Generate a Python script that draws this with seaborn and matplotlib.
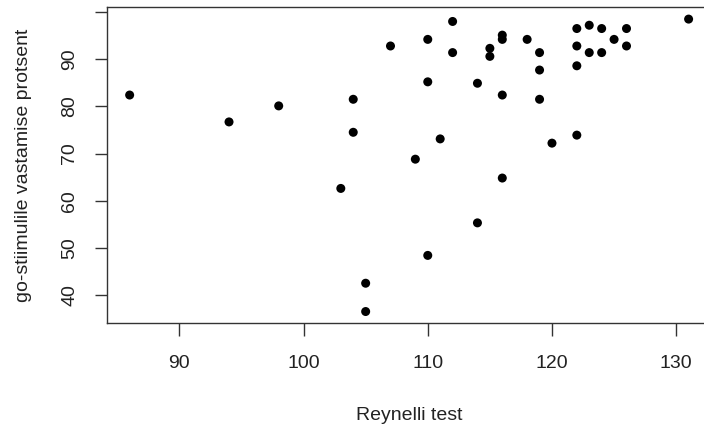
import matplotlib
matplotlib.use("Agg")
import matplotlib.pyplot as plt
import seaborn as sns
import pandas as pd

reynelli = [86, 94, 98, 104, 104, 103, 105, 105, 107,
            131, 110, 112, 112, 110, 109, 111, 110, 114, 114,
            115, 115, 116, 116, 116, 116, 118, 119, 119, 119,
            120, 122, 122, 122, 122, 123, 123, 124, 124, 125, 126, 126]
go_pct = [82.4, 76.7, 80.1, 81.5, 74.5, 62.6, 42.5, 36.5, 92.8,
          98.5, 94.2, 98.0, 91.4, 85.2, 68.8, 73.1, 48.4, 84.9, 55.3,
          92.3, 90.6, 95.1, 94.2, 82.4, 64.8, 94.2, 91.4, 87.7, 81.5,
          72.2, 96.5, 92.8, 88.6, 73.9, 97.2, 91.4, 96.5, 91.4, 94.2, 96.5, 92.8]

x_ticks = [90, 100, 110, 120, 130]
x_tick_labels = ["90", "100", "110", "120", "130"]
y_ticks = [40, 50, 60, 70, 80, 90, 100]
y_tick_labels = ["40", "50", "60", "70", "80", "90", ""]

df = pd.DataFrame({"Reynelli test": reynelli, "go": go_pct})

sns.set_style("ticks")
plt.rcParams["font.family"] = ["Liberation Sans", "DejaVu Sans"]

fig = plt.figure(figsize=(7.04, 4.30), dpi=100)
ax = fig.add_axes([0.1524, 0.2481, 0.8575, 0.7349])

sns.scatterplot(data=df, x="Reynelli test", y="go", color="black",
                s=42, edgecolor="none", linewidth=0, ax=ax)

ax.set_xlim(84.2, 132.8)
ax.set_ylim(34.0, 101.0)
ax.set_xticks(x_ticks, x_tick_labels)
ax.set_yticks(y_ticks, y_tick_labels)

for sp in ax.spines.values():
    sp.set_color("#333333")
    sp.set_linewidth(1.0)
    sp.set_visible(True)

ax.tick_params(axis="both", direction="out", length=9, width=1.0,
               color="#333333", labelsize=14, labelcolor="#222222",
               bottom=True, left=True, top=False, right=False)
ax.tick_params(axis="x", pad=13.5)
ax.tick_params(axis="y", pad=12, labelrotation=90)
for lab in ax.get_yticklabels():
    lab.set_va("center")

ax.set_xlabel("Reynelli test", fontsize=14, color="#222222", va="center")
ax.set_ylabel("go-stiimulile vastamise protsent", fontsize=14, color="#222222", va="center")
ax.xaxis.set_label_coords(0.5, -0.2902)
ax.yaxis.set_label_coords(-0.1388, 0.5)

fig.savefig("out.png", dpi=100)
